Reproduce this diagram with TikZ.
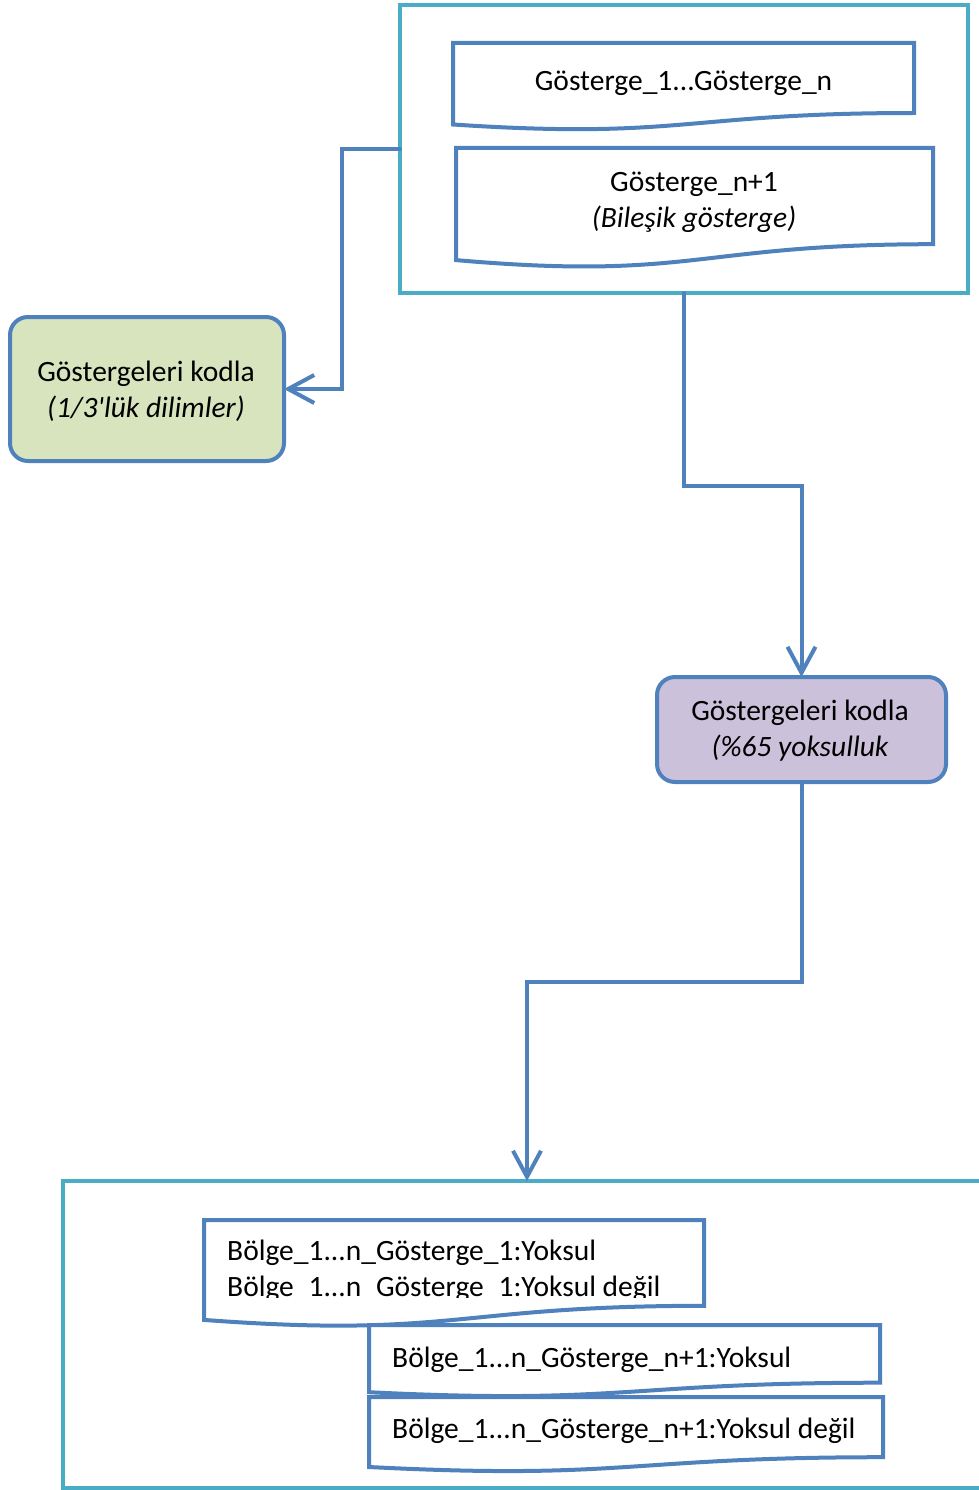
\documentclass[tikz,border=0pt]{standalone}
\usepackage{fontspec}
\setmainfont{Carlito}[Ligatures=TeXOff]
\usetikzlibrary{arrows.meta}
\definecolor{blueB}{HTML}{4F81BD}
\definecolor{tealC}{HTML}{4BACC6}
\definecolor{greenF}{HTML}{D7E4BD}
\definecolor{purpleF}{HTML}{CCC1DA}
\tikzset{
  docline/.style={draw=blueB, line width=4pt, fill=white, line join=miter},
  container/.style={draw=tealC, line width=3.5pt, rectangle, inner sep=0pt, outer sep=0pt},
  procbox/.style={draw=blueB, line width=4pt, rounded corners=18pt, rectangle, inner sep=0pt, outer sep=0pt},
  conn/.style={draw=blueB, line width=4pt, line cap=round, -{Straight Barb[length=26pt,width=28pt]}},
  lbl/.style={font=\fontsize{29.5}{36}\selectfont, inner sep=0pt, anchor=base},
}
\begin{document}
\begin{tikzpicture}[x=1pt,y=1pt]
\useasboundingbox (0,0) rectangle (979,-1490);
\clip (0,0) rectangle (979,-1490);
\fill[white] (0,0) rectangle (979,-1490);

% top container
\node[container, minimum width=568pt, minimum height=288pt] (top) at (684,-149) {};
% document 1
\draw[docline] (453,-43) -- (914,-43) -- (914,-113) .. controls (683.5,-113) and (683.5,-139.7) .. (453,-124.5) -- cycle;
\node[lbl] (d1) at (683.5,-91) {Gösterge\_1...Gösterge\_n};
% document 2
\draw[docline] (456,-148) -- (933,-148) -- (933,-244.2) .. controls (694.5,-244.2) and (694.5,-280.9) .. (456,-260.1) -- cycle;
\node[lbl] (d2a) at (694,-191) {Gösterge\_n+1};
\node[lbl] (d2b) at (694,-227) {\itshape (Bileşik gösterge)};

% green box
\node[procbox, fill=greenF, minimum width=274pt, minimum height=144pt] (green) at (147,-389) {};
\node[lbl] (g1) at (146,-381) {Göstergeleri kodla};
\node[lbl] (g2) at (146,-417) {\itshape (1/3'lük dilimler)};

% purple box
\node[procbox, fill=purpleF, minimum width=289pt, minimum height=105pt] (purple) at (801.5,-729.5) {};
\node[lbl] (p1) at (800,-720) {Göstergeleri kodla};
\node[lbl] (p2) at (800,-756) {\itshape (\%65 yoksulluk};

% bottom container (extends beyond the right edge)
\draw[draw=tealC, line width=3.5pt] (990,-1181) -- (63,-1181) -- (63,-1488) -- (990,-1488);
\coordinate (bt) at (527,-1181);

% document A
\draw[docline] (204,-1220) -- (704,-1220) -- (704,-1305.8) .. controls (454,-1305.8) and (454,-1338.5) .. (204,-1319.9) -- cycle;
\begin{scope}
  \clip (210,-1224) rectangle (700,-1297);
  \node[lbl, anchor=base west] (a1) at (227,-1260) {Bölge\_1...n\_Gösterge\_1:Yoksul};
  \node[lbl, anchor=base west] (a2) at (227,-1296) {Bölge\_1...n\_Gösterge\_1:Yoksul değil};
\end{scope}
% document B
\draw[docline] (369,-1325) -- (880,-1325) -- (880,-1382.7) .. controls (624.5,-1382.7) and (624.5,-1404.7) .. (369,-1392.2) -- cycle;
\node[lbl, anchor=base west] (b1) at (392,-1367) {Bölge\_1...n\_Gösterge\_n+1:Yoksul};
% document C
\draw[docline] (369,-1397) -- (883,-1397) -- (883,-1457.2) .. controls (626,-1457.2) and (626,-1480.1) .. (369,-1467) -- cycle;
\node[lbl, anchor=base west] (c1) at (392,-1438) {Bölge\_1...n\_Gösterge\_n+1:Yoksul değil};

% connectors
\draw[conn] (top.west) -- (342,-149) |- (green.east);
\draw[conn] (top.south) -- (684,-486) -| (purple.north);
\draw[conn] (purple.south) -- (801.5,-982) -| (bt);
\end{tikzpicture}
\end{document}
